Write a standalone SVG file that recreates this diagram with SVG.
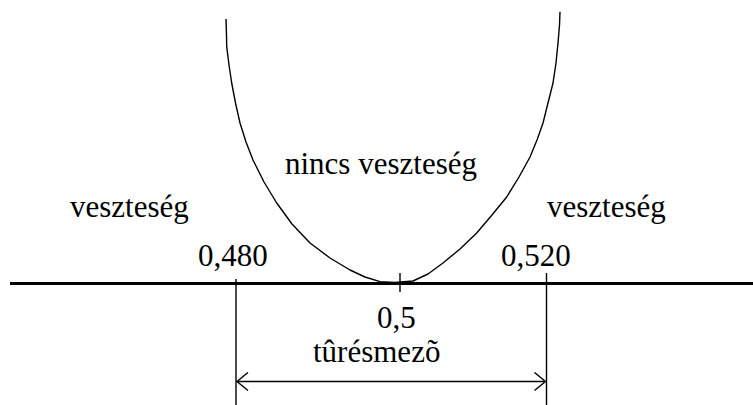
<svg xmlns="http://www.w3.org/2000/svg" width="753" height="405" viewBox="0 0 753 405">
<style>
text{font-family:'Liberation Serif','DejaVu Serif','Noto Serif',serif;font-size:31px;fill:#000}
.thin{stroke:#000;stroke-width:1.4;fill:none}
</style>
<defs>
<marker id="ah" markerWidth="14" markerHeight="20" refX="12" refY="10" orient="auto-start-reverse" markerUnits="userSpaceOnUse">
<path d="M1,1 L12,10 L1,19" fill="none" stroke="#000" stroke-width="1.4"/>
</marker>
</defs>
<rect width="753" height="405" fill="#fff"/>
<g id="connectors">
<line x1="10" y1="283.5" x2="753" y2="283.5" stroke="#000" stroke-width="3.2"/>
<line class="thin" x1="236" y1="279" x2="236" y2="405"/>
<line class="thin" x1="546.5" y1="273" x2="546.5" y2="405"/>
<line class="thin" x1="400" y1="273" x2="400" y2="292"/>
<line class="thin" x1="237" y1="381.5" x2="545.5" y2="381.5" marker-start="url(#ah)" marker-end="url(#ah)"/>
</g>
<g id="curve">
<polyline class="thin" stroke-width="1.6" stroke-linejoin="round" points="226,19 226.5,35 226.7,46.7 229,65 231.7,83 235.5,103 240,123 246,142 253,160 264,182 276.7,203 292,224 310,243 330,258 350,270 365,277 380,281.7 395,282.5 413,281 428,274 443,263 460,249 476.7,233 492,215 506.7,197 519,177 530,157 537,140 543,123 548,103 553,83 556,63 558,43 559.5,25 560,11.7"/>
</g>
<g font-family="Liberation Serif, DejaVu Serif, serif">
<g id="label-nincs"><text x="285" y="174">nincs veszteség</text></g>
<g id="label-left"><text x="70" y="217">veszteség</text></g>
<g id="label-right"><text x="547" y="217">veszteség</text></g>
<g id="label-0480"><text x="198" y="266">0,480</text></g>
<g id="label-0520"><text x="501" y="266">0,520</text></g>
<g id="label-05"><text x="377" y="328">0,5</text></g>
<g id="label-tures"><text x="313" y="362">tûrésmezõ</text></g>
</g>
</svg>
